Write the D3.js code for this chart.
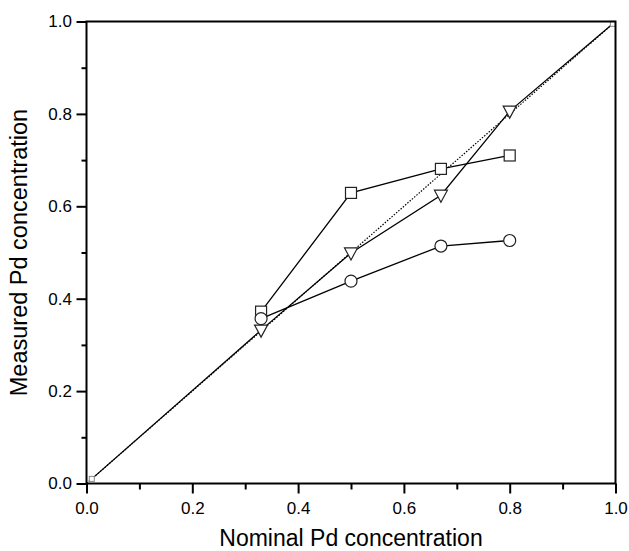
<!DOCTYPE html>
<html>
<head>
<meta charset="utf-8">
<script src="https://cdn.jsdelivr.net/npm/d3@7"></script>
<style>
  body { margin: 0; background: #fff; }
  svg { font-family: "Liberation Sans", Arial, sans-serif; }
</style>
</head>
<body>
<div id="chart"></div>
<script>
// nominal composition (x) for the three measured series
var nominal = [0.33, 0.5, 0.67, 0.8];
var squares = [0.372, 0.629, 0.681, 0.710];
var circles = [0.357, 0.438, 0.514, 0.526];
var triangles = [0.332, 0.499, 0.624, 0.806];
// the triangle line also runs out to the corners
var triEndsX = [0.01, 1.0];
var idealX = [0, 1];
var xTicks = [0, 0.2, 0.4, 0.6, 0.8, 1.0];
var yTicks = [0, 0.2, 0.4, 0.6, 0.8, 1.0];
var minorTicks = [0.1, 0.3, 0.5, 0.7, 0.9];

var width = 629, height = 551;
var margin = {left: 86.5, right: 13.5, top: 21.5, bottom: 67.5};

var svg = d3.select("#chart").append("svg")
    .attr("width", width)
    .attr("height", height);

var x = d3.scaleLinear().domain([0, 1]).range([margin.left, width - margin.right]);
var y = d3.scaleLinear().domain([0, 1]).range([height - margin.bottom, margin.top]);

var line = d3.line().x(function(d) { return x(d[0]); }).y(function(d) { return y(d[1]); });

// ideal (dotted) diagonal
svg.append("path")
    .datum(idealX.map(function(v) { return [v, v]; }))
    .attr("d", line)
    .attr("fill", "none")
    .attr("stroke", "#000")
    .attr("stroke-width", 1.2)
    .attr("stroke-dasharray", "1.5,1.5");

var triPts = [[triEndsX[0], triEndsX[0]]]
    .concat(nominal.map(function(v, i) { return [v, triangles[i]]; }))
    .concat([[triEndsX[1], triEndsX[1]]]);

var series = [
  nominal.map(function(v, i) { return [v, squares[i]]; }),
  nominal.map(function(v, i) { return [v, circles[i]]; }),
  triPts
];

series.forEach(function(s) {
  svg.append("path")
      .datum(s)
      .attr("d", line)
      .attr("fill", "none")
      .attr("stroke", "#000")
      .attr("stroke-width", 1.3);
});

// small end markers
svg.selectAll(".endm")
    .data([[0.01, 0.01], [0.995, 0.995]])
    .enter().append("rect")
    .attr("x", function(d) { return x(d[0]) - 2.5; })
    .attr("y", function(d) { return y(d[1]) - 2.5; })
    .attr("width", 5).attr("height", 5)
    .attr("fill", "#fff")
    .attr("stroke", "#888")
    .attr("stroke-width", 1);

// square markers
svg.selectAll(".sq")
    .data(series[0])
    .enter().append("rect")
    .attr("x", function(d) { return x(d[0]) - 5.5; })
    .attr("y", function(d) { return y(d[1]) - 5.5; })
    .attr("width", 11).attr("height", 11)
    .attr("fill", "#fff")
    .attr("stroke", "#222")
    .attr("stroke-width", 1.2);

// circle markers
svg.selectAll(".ci")
    .data(series[1])
    .enter().append("circle")
    .attr("cx", function(d) { return x(d[0]); })
    .attr("cy", function(d) { return y(d[1]); })
    .attr("r", 6)
    .attr("fill", "#fff")
    .attr("stroke", "#222")
    .attr("stroke-width", 1.2);

// down triangles
svg.selectAll(".tr")
    .data(nominal.map(function(v, i) { return [v, triangles[i]]; }))
    .enter().append("path")
    .attr("d", function(d) {
      var cx = x(d[0]), cy = y(d[1]);
      return "M" + (cx - 6.5) + "," + (cy - 5) + "L" + (cx + 6.5) + "," + (cy - 5) + "L" + cx + "," + (cy + 7) + "Z";
    })
    .attr("fill", "#fff")
    .attr("stroke", "#222")
    .attr("stroke-width", 1.2);

// frame
svg.append("rect")
    .attr("x", x(0)).attr("y", y(1))
    .attr("width", x(1) - x(0)).attr("height", y(0) - y(1))
    .attr("fill", "none")
    .attr("stroke", "#000")
    .attr("stroke-width", 2);

// axes
svg.append("g")
    .attr("transform", "translate(0," + y(0) + ")")
    .call(d3.axisBottom(x).tickValues(xTicks).tickSize(10).tickPadding(8).tickFormat(d3.format(".1f")));
svg.append("g")
    .attr("transform", "translate(0," + y(0) + ")")
    .call(d3.axisBottom(x).tickValues(minorTicks).tickSize(6).tickFormat(""));
svg.append("g")
    .attr("transform", "translate(" + x(0) + ",0)")
    .call(d3.axisLeft(y).tickValues(yTicks).tickSize(10).tickPadding(4.5).tickFormat(d3.format(".1f")));
svg.append("g")
    .attr("transform", "translate(" + x(0) + ",0)")
    .call(d3.axisLeft(y).tickValues(minorTicks).tickSize(5).tickFormat(""));

svg.selectAll(".domain").remove();
svg.selectAll(".tick line").attr("stroke", "#000").attr("stroke-width", 2);
svg.selectAll(".tick text")
    .attr("font-family", "Liberation Sans, Arial, sans-serif")
    .attr("font-size", 17)
    .attr("fill", "#000");

// titles
svg.append("text")
    .attr("x", (x(0) + x(1)) / 2)
    .attr("y", 546)
    .attr("text-anchor", "middle")
    .attr("font-size", 23)
    .text("Nominal Pd concentration");

svg.append("text")
    .attr("transform", "translate(27," + ((y(0) + y(1)) / 2) + ") rotate(-90)")
    .attr("text-anchor", "middle")
    .attr("font-size", 23.5)
    .text("Measured Pd concentration");
</script>
</body>
</html>
